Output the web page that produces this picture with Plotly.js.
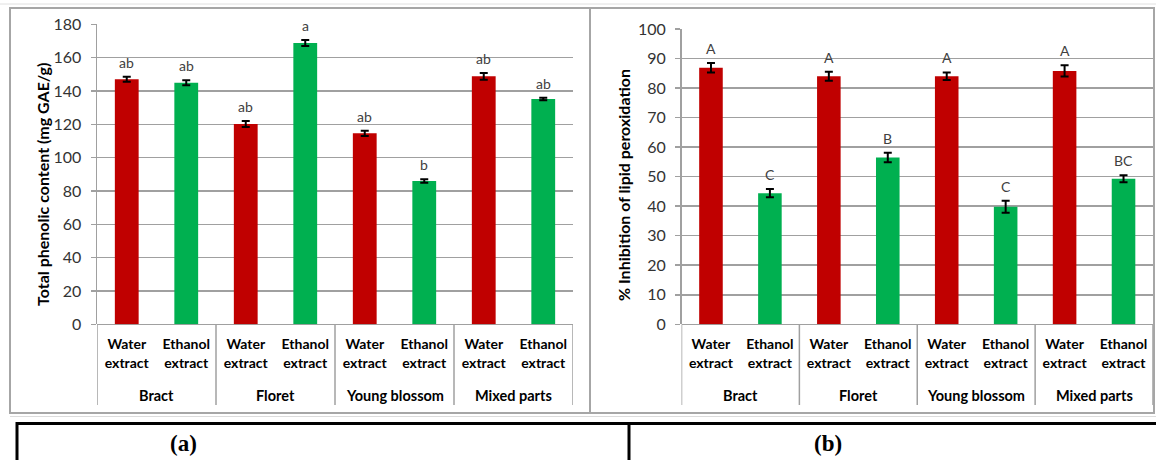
<!DOCTYPE html>
<html>
<head>
<meta charset="utf-8">
<script src="https://cdn.plot.ly/plotly-3.0.1.min.js"></script>
<style>html,body{margin:0;padding:0;background:#fff;}#chart{width:1156px;height:460px;}</style>
</head>
<body>
<div id="chart"></div>
<script>
// ---- data ----
const groups = ['Bract', 'Floret', 'Young blossom', 'Mixed parts'];
const extracts = ['Water extract', 'Ethanol extract'];
const extractColors = ['#C00000', '#00B050'];

// (a) Total phenolic content (mg GAE/g)
const tpcValues = [147, 145, 120.2, 168.8, 114.6, 86, 148.8, 135.2];
const tpcErrors = [1.5, 1.5, 1.8, 1.8, 1.6, 1.0, 2.0, 0.8];
const tpcLetters = ['ab', 'ab', 'ab', 'a', 'ab', 'b', 'ab', 'ab'];

// (b) % Inhibition of lipid peroxidation
const lpoValues = [86.9, 44.4, 84.0, 56.5, 84.0, 39.8, 85.8, 49.3];
const lpoErrors = [1.6, 1.4, 1.5, 1.6, 1.3, 2.0, 1.9, 1.2];
const lpoLetters = ['A', 'C', 'A', 'B', 'A', 'C', 'A', 'BC'];

const panelLabels = ['(a)', '(b)'];
const yTitles = ['Total phenolic content (mg GAE/g)', '% Inhibition of lipid peroxidation'];

// ---- build ----
const W = 1156, H = 460;
const px = x => x / W;
const py = y => 1 - y / H;

const cats = [], tickText = [], colors = [];
groups.forEach(g => extracts.forEach((e, j) => {
  cats.push(g + ' | ' + e);
  tickText.push('<b>' + e.replace(' ', '<br>') + '</b>');
  colors.push(extractColors[j]);
}));

const FONT = 'Lato, "Open Sans", sans-serif';

function barTrace(vals, errs, xa, ya) {
  return {
    type: 'bar', x: cats, y: vals, xaxis: xa, yaxis: ya, width: 0.4,
    marker: {color: colors, line: {width: 0}},
    error_y: {type: 'data', array: errs, visible: true, color: '#000', thickness: 2, width: 4},
    hoverinfo: 'x+y', showlegend: false
  };
}

const data = [
  barTrace(tpcValues, tpcErrors, 'x', 'y'),
  barTrace(lpoValues, lpoErrors, 'x2', 'y2')
];

const annotations = [];
const shapes = [];

function letters(vals, errs, lets, xr, yr) {
  lets.forEach((t, i) => annotations.push({
    xref: xr, yref: yr, x: cats[i], y: vals[i] + errs[i], text: t, showarrow: false,
    xanchor: 'center', yanchor: 'bottom', yshift: 4, font: {family: FONT, size: 14, color: '#404040'}
  }));
}
letters(tpcValues, tpcErrors, tpcLetters, 'x', 'y');
letters(lpoValues, lpoErrors, lpoLetters, 'x2', 'y2');

function groupStuff(xr) {
  groups.forEach((g, i) => annotations.push({
    xref: xr, yref: 'paper', x: 2 * i + 0.5, y: py(395), text: '<b>' + g + '</b>', showarrow: false,
    xanchor: 'center', yanchor: 'middle', font: {family: FONT, size: 14.5, color: '#000'}
  }));
  for (let k = 0; k <= groups.length; k++) {
    shapes.push({type: 'line', xref: xr, yref: 'paper', x0: 2 * k - 0.5, x1: 2 * k - 0.5,
      y0: py(324.3), y1: py(405), line: {color: '#a0a0a0', width: 1.5}});
  }
}
groupStuff('x');
groupStuff('x2');

// y titles
annotations.push({xref: 'paper', yref: 'paper', x: px(42), y: py(185), text: '<b>' + yTitles[0] + '</b>',
  textangle: -90, showarrow: false, xanchor: 'center', yanchor: 'middle', font: {family: FONT, size: 16, color: '#000'}});
annotations.push({xref: 'paper', yref: 'paper', x: px(623), y: py(185), text: '<b>' + yTitles[1] + '</b>',
  textangle: -90, showarrow: false, xanchor: 'center', yanchor: 'middle', font: {family: FONT, size: 16, color: '#000'}});

// panel labels
annotations.push({xref: 'paper', yref: 'paper', x: px(183), y: py(443), text: '<b>' + panelLabels[0] + '</b>',
  showarrow: false, xanchor: 'center', yanchor: 'middle', font: {family: '"Liberation Serif", "DejaVu Serif", serif', size: 23, color: '#000'}});
annotations.push({xref: 'paper', yref: 'paper', x: px(828), y: py(443), text: '<b>' + panelLabels[1] + '</b>',
  showarrow: false, xanchor: 'center', yanchor: 'middle', font: {family: '"Liberation Serif", "DejaVu Serif", serif', size: 23, color: '#000'}});

// chart boxes
shapes.push({type: 'line', xref: 'paper', yref: 'paper', x0: 0, x1: 1, y0: py(4), y1: py(4), line: {color: '#e0e0e0', width: 1}});
shapes.push({type: 'rect', xref: 'paper', yref: 'paper', x0: px(10), x1: px(590), y0: py(413), y1: py(8), line: {color: '#a6a6a6', width: 2}});
shapes.push({type: 'rect', xref: 'paper', yref: 'paper', x0: px(590), x1: px(1154), y0: py(413), y1: py(8), line: {color: '#a6a6a6', width: 2}});
shapes.push({type: 'line', xref: 'paper', yref: 'paper', x0: px(10), x1: 1, y0: py(416.5), y1: py(416.5), line: {color: '#dcdcdc', width: 1}});
// table under the charts
shapes.push({type: 'rect', xref: 'paper', yref: 'paper', x0: px(17), x1: px(1170), y0: py(480), y1: py(423.5), line: {color: '#000', width: 3}});
shapes.push({type: 'line', xref: 'paper', yref: 'paper', x0: px(629), x1: px(629), y0: py(423.5), y1: py(470), line: {color: '#000', width: 3}});

function xAxis(l, r) {
  return {
    domain: [px(l), px(r)], type: 'category', categoryorder: 'array', categoryarray: cats,
    range: [-0.5, 7.5], tickmode: 'array', tickvals: cats, ticktext: tickText,
    showgrid: false, zeroline: false, showline: false, ticks: '', ticklabelstandoff: 10,
    tickfont: {family: FONT, size: 14, color: '#000'}, fixedrange: true
  };
}
function yAxis(top, max, anchor) {
  return {
    domain: [py(324.3), py(top)], range: [0, max], dtick: max === 180 ? 20 : 10, anchor: anchor,
    showgrid: true, gridcolor: '#a0a0a0', gridwidth: 1.5, zeroline: true, zerolinecolor: '#a0a0a0', zerolinewidth: 1.5,
    showline: true, linecolor: '#a0a0a0', linewidth: 1.5, ticks: 'outside', ticklen: 5, tickcolor: '#a0a0a0', tickwidth: 1.5,
    ticklabelstandoff: 6, tickfont: {family: FONT, size: 16, color: '#333'}, fixedrange: true
  };
}

const layout = {
  width: W, height: H, margin: {l: 0, r: 0, t: 0, b: 0},
  paper_bgcolor: '#fff', plot_bgcolor: '#fff', showlegend: false,
  barmode: 'overlay',
  xaxis: Object.assign(xAxis(97, 573), {anchor: 'y'}),
  yaxis: yAxis(24.3, 180, 'x'),
  xaxis2: Object.assign(xAxis(681.5, 1153), {anchor: 'y2'}),
  yaxis2: yAxis(29, 100, 'x2'),
  annotations: annotations, shapes: shapes
};

Plotly.newPlot('chart', data, layout, {displayModeBar: false, staticPlot: true});
</script>
</body>
</html>
